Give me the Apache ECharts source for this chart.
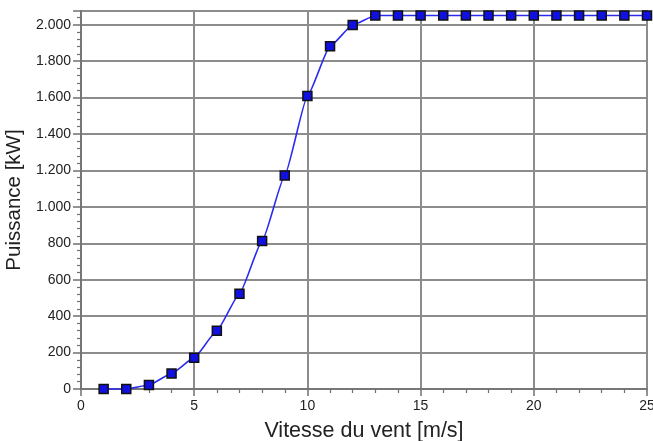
<!DOCTYPE html>
<html>
<head>
<meta charset="utf-8">
<script src="https://cdn.jsdelivr.net/npm/echarts@6/dist/echarts.min.js"></script>
<style>
  html, body { margin: 0; padding: 0; background: #ffffff; }
  #chart { width: 653px; height: 441px; }
</style>
</head>
<body>
<div id="chart"></div>
<script>
// Power curve: wind speed (m/s) against electrical output (kW)
const windSpeeds = [1, 2, 3, 4, 5, 6, 7, 8, 9, 10, 11, 12, 13, 14, 15, 16, 17, 18, 19, 20, 21, 22, 23, 24, 25];
const powerKW = [0, 0, 22, 85, 172, 320, 523, 813, 1172, 1608, 1882, 1998, 2050, 2050, 2050, 2050, 2050, 2050, 2050, 2050, 2050, 2050, 2050, 2050, 2050];

const xTitle = 'Vitesse du vent [m/s]';
const yTitle = 'Puissance [kW]';

const points = windSpeeds.map((v, i) => [v, powerKW[i]]);

// thousands separator as a dot, e.g. 2.000
function fmtThousands(v) {
  return String(Math.round(v)).replace(/\B(?=(\d{3})+(?!\d))/g, '.');
}

const chart = echarts.init(document.getElementById('chart'), null, { renderer: 'canvas' });

const gridLine = { show: true, lineStyle: { color: '#8c8c8c', width: 2 } };
const font = 'Liberation Sans, Arial, sans-serif';

chart.setOption({
  backgroundColor: '#ffffff',
  animation: false,
  grid: {
    left: 81, right: 6, top: 11, bottom: 52,
    outerBoundsMode: 'none',
    containLabel: false,
    show: true, borderColor: '#333333', borderWidth: 1.5, backgroundColor: 'transparent'
  },
  xAxis: {
    type: 'value',
    min: 0, max: 25, interval: 5,
    name: xTitle,
    nameLocation: 'middle',
    nameGap: 31,
    nameTextStyle: { fontFamily: font, fontSize: 21.5, color: '#222' },
    axisLine: { show: true, onZero: false, lineStyle: { color: '#707070', width: 1.5 } },
    axisTick: { show: true, length: 7, lineStyle: { color: '#707070', width: 1.5 } },
    minorTick: { show: true, splitNumber: 5, length: 4, lineStyle: { color: '#707070', width: 1.2 } },
    axisLabel: { fontFamily: font, fontSize: 14, color: '#222', margin: 10 },
    splitLine: gridLine
  },
  yAxis: {
    type: 'value',
    min: 0, max: 2075, interval: 200,
    name: yTitle,
    nameLocation: 'middle',
    nameGap: 55,
    nameTextStyle: { fontFamily: font, fontSize: 20.5, color: '#222' },
    axisLine: { show: true, lineStyle: { color: '#707070', width: 1.5 } },
    axisTick: { show: true, length: 8, lineStyle: { color: '#707070', width: 1.5 } },
    minorTick: { show: true, splitNumber: 5, length: 4, lineStyle: { color: '#707070', width: 1.2 } },
    axisLabel: {
      fontFamily: font, fontSize: 14, color: '#222', margin: 10,
      showMaxLabel: false,
      formatter: fmtThousands
    },
    splitLine: gridLine
  },
  series: [{
    type: 'line',
    data: points,
    smooth: 0.15,
    smoothMonotone: 'x',
    clip: false,
    symbol: 'rect',
    symbolSize: 9,
    lineStyle: { color: '#2a2af0', width: 1.6 },
    itemStyle: { color: '#1010e0', borderColor: '#111111', borderWidth: 1.5 },
    z: 3
  }]
});
</script>
</body>
</html>
